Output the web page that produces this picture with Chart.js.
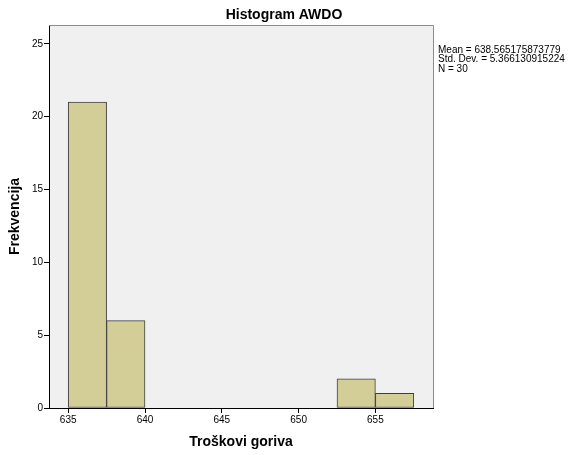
<!DOCTYPE html>
<html>
<head>
<meta charset="utf-8">
<script src="https://cdn.jsdelivr.net/npm/chart.js@4"></script>
<style>
  body { margin: 0; background: #fff; }
  #wrap { width: 568px; height: 455px; position: relative; }
</style>
</head>
<body>
<div id="wrap"><canvas id="myChart" width="568" height="455"></canvas></div>
<script>
// histogram bins (centres) and counts
const binCentres = [636.25, 638.75, 653.75, 656.25]
const counts = [21, 6, 2, 1]
const xTicks = [635, 640, 645, 650, 655]
const yTicks = [0, 5, 10, 15, 20, 25]
const chartTitle = 'Histogram AWDO'
const statLines = ['Mean = 638.565175873779', 'Std. Dev. = 5.366130915224', 'N = 30']

const FONT = 'Arial, "Liberation Sans", sans-serif'

// plot background, grey top/right frame, title and stats like SPSS
const frame = {
    id: 'frame',
    beforeDraw(chart) {
        const a = chart.chartArea
        const ctx = chart.ctx
        ctx.save()
        ctx.fillStyle = '#f0f0f0'
        ctx.fillRect(a.left, a.top, a.right - a.left, a.bottom - a.top)
        ctx.restore()
    },
    afterDraw(chart) {
        const a = chart.chartArea
        const ctx = chart.ctx
        ctx.save()
        ctx.strokeStyle = '#8c8c8c'
        ctx.lineWidth = 1
        ctx.beginPath()
        ctx.moveTo(a.left, a.top + 0.5)
        ctx.lineTo(a.right + 0.5, a.top + 0.5)
        ctx.lineTo(a.right + 0.5, a.bottom)
        ctx.stroke()

        ctx.fillStyle = '#000'
        ctx.font = 'bold 14px ' + FONT
        ctx.textAlign = 'center'
        ctx.textBaseline = 'middle'
        ctx.fillText(chartTitle, chart.width / 2, 15)

        ctx.font = '10px ' + FONT
        ctx.textAlign = 'left'
        ctx.textBaseline = 'top'
        for (let i = 0; i < statLines.length; i++) {
            ctx.fillText(statLines[i], a.right + 5, 45 + i * 9.5)
        }
        ctx.restore()
    }
}

function createChart() {
    const ctx = document.getElementById('myChart')
    new Chart(ctx, {
        type: 'bar',
        data: {
            datasets: [{
                data: binCentres.map((c, i) => ({x: c, y: counts[i]})),
                backgroundColor: '#d3ce97',
                borderColor: '#3f3f3f',
                borderWidth: 1,
                borderSkipped: false,
                barPercentage: 1,
                categoryPercentage: 1
            }]
        },
        options: {
            responsive: false,
            animation: false,
            layout: { padding: { left: 0, right: 135, top: 25, bottom: 0 } },
            plugins: {
                legend: { display: false },
                tooltip: { enabled: false },
                title: { display: false }
            },
            scales: {
                x: {
                    type: 'linear',
                    offset: false,
                    min: 633.75,
                    max: 658.75,
                    afterBuildTicks: s => { s.ticks = xTicks.map(v => ({value: v})) },
                    afterFit: s => { s.height = 47 },
                    grid: { drawOnChartArea: false, drawTicks: true, tickLength: 5, color: '#000', offset: false },
                    border: { display: true, color: '#000', width: 1 },
                    ticks: { color: '#000', font: { family: FONT, size: 10 }, padding: 1, maxRotation: 0 },
                    title: {
                        display: true,
                        text: 'Troškovi goriva',
                        color: '#000',
                        font: { family: FONT, size: 14, weight: 'bold' },
                        padding: { top: 0, bottom: 4 }
                    }
                },
                y: {
                    min: 0,
                    max: 26.3,
                    afterBuildTicks: s => { s.ticks = yTicks.map(v => ({value: v})) },
                    afterFit: s => { s.width = 49 },
                    grid: { drawOnChartArea: false, drawTicks: true, tickLength: 5, color: '#000' },
                    border: { display: true, color: '#000', width: 1 },
                    ticks: { color: '#000', font: { family: FONT, size: 10 }, padding: 1 },
                    title: {
                        display: true,
                        text: 'Frekvencija',
                        color: '#000',
                        font: { family: FONT, size: 14, weight: 'bold' },
                        padding: { top: 7, bottom: 0 }
                    }
                }
            }
        },
        plugins: [frame]
    })
}

createChart()
</script>
</body>
</html>
